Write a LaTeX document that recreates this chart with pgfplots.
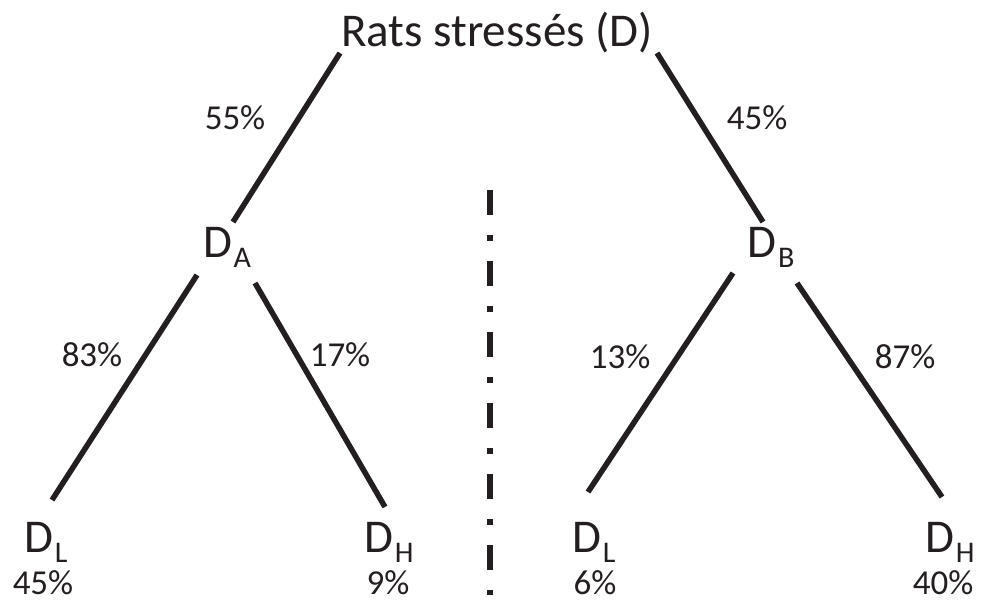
\documentclass[border=0pt]{standalone}
\usepackage{pgfplots}
\pgfplotsset{compat=1.18}
\usepackage{fontspec}
\setmainfont{Carlito}
\definecolor{ink}{HTML}{231F20}

\newcommand{\pct}[1]{\fontsize{35}{35}\selectfont #1}
\newcommand{\sub}[2]{\fontsize{47}{47}\selectfont #1\kern1.5pt\raisebox{-10pt}{\fontsize{30}{30}\selectfont #2}}

\begin{document}
\begin{tikzpicture}
\begin{axis}[
    width=981pt, height=604pt,
    scale only axis,
    xmin=0, xmax=981,
    ymin=0, ymax=604,
    y dir=reverse,
    hide axis,
    clip=false,
]
% invisible frame so the page is exactly the chart area
\path (axis cs:0,0) rectangle (axis cs:981,604);

% branches
\addplot[ink, line width=5.5pt] coordinates {(340,53) (233,222)};
\addplot[ink, line width=5.5pt] coordinates {(657,53) (763,222)};
\addplot[ink, line width=5.5pt] coordinates {(197,275) (52,500)};
\addplot[ink, line width=5.5pt] coordinates {(255,283) (385,507)};
\addplot[ink, line width=5.5pt] coordinates {(733,273) (588,492)};
\addplot[ink, line width=5.5pt] coordinates {(797,283) (942,497)};

% separator
\addplot[ink, line width=6pt, dash pattern=on 25pt off 20pt on 6pt off 20pt]
    coordinates {(490,190) (490,595)};

% labels
\node[ink, font=\fontsize{47}{47}\selectfont] at (axis cs:497,33) {Rats stressés (D)};
\node[ink] at (axis cs:235,118) {\pct{55\%}};
\node[ink] at (axis cs:757,118) {\pct{45\%}};
\node[ink] at (axis cs:92,355) {\pct{83\%}};
\node[ink] at (axis cs:340,355) {\pct{17\%}};
\node[ink] at (axis cs:620,357) {\pct{13\%}};
\node[ink] at (axis cs:905,357) {\pct{87\%}};

\node[ink] at (axis cs:227,247) {\sub{D}{A}};
\node[ink] at (axis cs:771,247) {\sub{D}{B}};
\node[ink] at (axis cs:46,542) {\sub{D}{L}};
\node[ink] at (axis cs:389,542) {\sub{D}{H}};
\node[ink] at (axis cs:594,542) {\sub{D}{L}};
\node[ink] at (axis cs:950,542) {\sub{D}{H}};

\node[ink] at (axis cs:43,583) {\pct{45\%}};
\node[ink] at (axis cs:388,583) {\pct{9\%}};
\node[ink] at (axis cs:595,583) {\pct{6\%}};
\node[ink] at (axis cs:943,583) {\pct{40\%}};
\end{axis}
\end{tikzpicture}
\end{document}
